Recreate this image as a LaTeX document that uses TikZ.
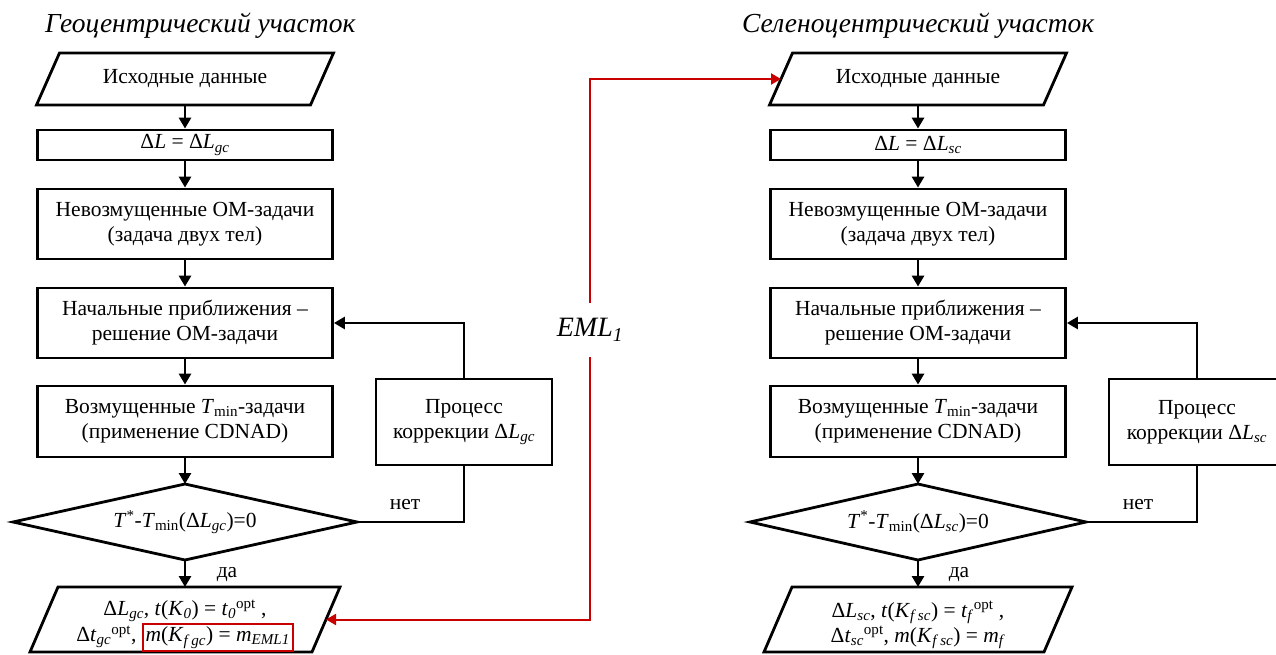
\documentclass[tikz,border=0pt]{standalone}
\usepackage{fontspec}
\setmainfont{Liberation Serif}
\usetikzlibrary{arrows.meta,calc}
\definecolor{myred}{RGB}{200,0,0}
\newcommand{\mysub}[1]{\textsubscript{#1}}
\newcommand{\mysup}[1]{\textsuperscript{#1}}
\newcommand{\drawpara}[2]{\draw[outline] ($(#1.south west)+(-#2,0)$) -- ($(#1.south east)+(-#2,0)$) -- ($(#1.north east)+(#2,0)$) -- ($(#1.north west)+(#2,0)$) -- cycle;}
\newcommand{\drawdiam}[1]{\draw[outline] (#1.north) -- (#1.east) -- (#1.south) -- (#1.west) -- cycle;}
\begin{document}
\begin{tikzpicture}[x=1pt,y=-1pt,
  every node/.style={font=\fontsize{21.5}{25}\selectfont, align=center},
  outline/.style={line width=2.8pt, line join=miter},
  box/.style={draw, line width=2.8pt, minimum width=295pt, inner sep=0pt},
  shp/.style={inner sep=0pt, outer sep=0pt},
  arr/.style={line width=2.8pt, -{Triangle[length=11pt,width=12pt]}},
  conn/.style={line width=2.8pt},
  redarr/.style={draw=myred, line width=2pt, {Triangle[length=10pt,width=11pt]}-{Triangle[length=10pt,width=11pt]}},
  title/.style={font=\fontsize{27.5}{30}\selectfont\itshape, anchor=base west, inner sep=0pt},
  lbl/.style={inner sep=0pt}
]
\useasboundingbox (0,0) rectangle (1276,655);
\clip (0,0) rectangle (1276,655);

% ---------- left column ----------
\node[title] (tL) at (45,33) {Геоцентрический участок};
\node[shp, minimum width=274pt, minimum height=52pt] (p1) at (185,79) {Исходные данные};
\drawpara{p1}{11.5}
\node[box, minimum height=30pt] (r1) at (185,145) {Δ\textit{L} = Δ\textit{L}\mysub{\textit{gc}}};
\node[box, minimum height=70pt] (r2) at (185,224) {Невозмущенные ОМ-задачи\\(задача двух тел)};
\node[box, minimum height=70pt] (r3) at (185,323) {Начальные приближения –\\решение ОМ-задачи};
\node[box, minimum height=71pt] (r4) at (185,421.5) {Возмущенные \textit{T}\mysub{min}-задачи\\(применение CDNAD)};
\node[shp, minimum width=344pt, minimum height=76pt] (d) at (185,522) {\textit{T}\mysup{*}-\textit{T}\mysub{min}(Δ\textit{L}\mysub{\textit{gc}})=0};
\drawdiam{d}
\node[shp, minimum width=282pt, minimum height=65pt] (p2) at (185,619.5) {};
\drawpara{p2}{14}
\node[lbl] (p2t) at (185,626) {Δ\textit{L}\mysub{\textit{gc}}, \textit{t}(\textit{K}\mysub{\textit{0}}) = \textit{t}\mysub{\textit{0}}\mysup{opt} ,\\[0pt]Δ\textit{t}\mysub{\textit{gc}}\mysup{opt}, {\setlength\fboxsep{2pt}\setlength\fboxrule{1.8pt}\fcolorbox{myred}{white}{\textit{m}(\textit{K}\mysub{\textit{f gc}}) = \textit{m}\mysub{\textit{EML1}}}}};
\node[box, minimum width=176pt, minimum height=86pt] (pr) at (464,422) {Процесс\\коррекции Δ\textit{L}\mysub{\textit{gc}}};

\draw[arr] (p1.south) -- (r1.north);
\draw[arr] (r1.south) -- (r2.north);
\draw[arr] (r2.south) -- (r3.north);
\draw[arr] (r3.south) -- (r4.north);
\draw[arr] (r4.south) -- (d.north);
\draw[arr] (d.south) -- (p2.north);
\draw[arr] (pr.north) |- (r3.east);
\draw[conn] (d.east) -| (pr.south);
\node[lbl] (netL) at (405,505) {нет};
\node[lbl] (daL) at (227,575) {да};

% ---------- right column ----------
\node[title] (tR) at (742,33) {Селеноцентрический участок};
\node[shp, minimum width=274pt, minimum height=52pt] (q1) at (918,79) {Исходные данные};
\drawpara{q1}{11.5}
\node[box, minimum height=30pt] (s1) at (918,145) {Δ\textit{L} = Δ\textit{L}\mysub{\textit{sc}}};
\node[box, minimum height=70pt] (s2) at (918,224) {Невозмущенные ОМ-задачи\\(задача двух тел)};
\node[box, minimum height=70pt] (s3) at (918,323) {Начальные приближения –\\решение ОМ-задачи};
\node[box, minimum height=71pt] (s4) at (918,421.5) {Возмущенные \textit{T}\mysub{min}-задачи\\(применение CDNAD)};
\node[shp, minimum width=336pt, minimum height=76pt] (e) at (918,522) {\textit{T}\mysup{*}-\textit{T}\mysub{min}(Δ\textit{L}\mysub{\textit{sc}})=0};
\drawdiam{e}
\node[shp, minimum width=280pt, minimum height=65pt] (q2) at (918,619.5) {};
\drawpara{q2}{14}
\node[lbl] (q2t) at (918,625) {Δ\textit{L}\mysub{\textit{sc}}, \textit{t}(\textit{K}\mysub{\textit{f sc}}) = \textit{t}\mysub{\textit{f}}\mysup{opt} ,\\[0pt]Δ\textit{t}\mysub{\textit{sc}}\mysup{opt}, \textit{m}(\textit{K}\mysub{\textit{f sc}}) = \textit{m}\mysub{\textit{f}}};
\node[box, minimum width=176pt, minimum height=86pt] (ps) at (1197,422) {Процесс\\коррекции Δ\textit{L}\mysub{\textit{sc}}};

\draw[arr] (q1.south) -- (s1.north);
\draw[arr] (s1.south) -- (s2.north);
\draw[arr] (s2.south) -- (s3.north);
\draw[arr] (s3.south) -- (s4.north);
\draw[arr] (s4.south) -- (e.north);
\draw[arr] (e.south) -- (q2.north);
\draw[arr] (ps.north) |- (s3.east);
\draw[conn] (e.east) -| (ps.south);
\node[lbl] (netR) at (1138,505) {нет};
\node[lbl] (daR) at (959,575) {да};

% ---------- EML link ----------
\coordinate (rx) at (590,0);
\draw[redarr] (p2.east) -- (p2.east -| rx) |- (q1.west);
\node[fill=white, inner xsep=2pt, minimum height=54pt, font=\fontsize{28}{30}\selectfont] (eml) at (590,330) {\textit{EML}\mysub{\textit{1}}};
\end{tikzpicture}
\end{document}
